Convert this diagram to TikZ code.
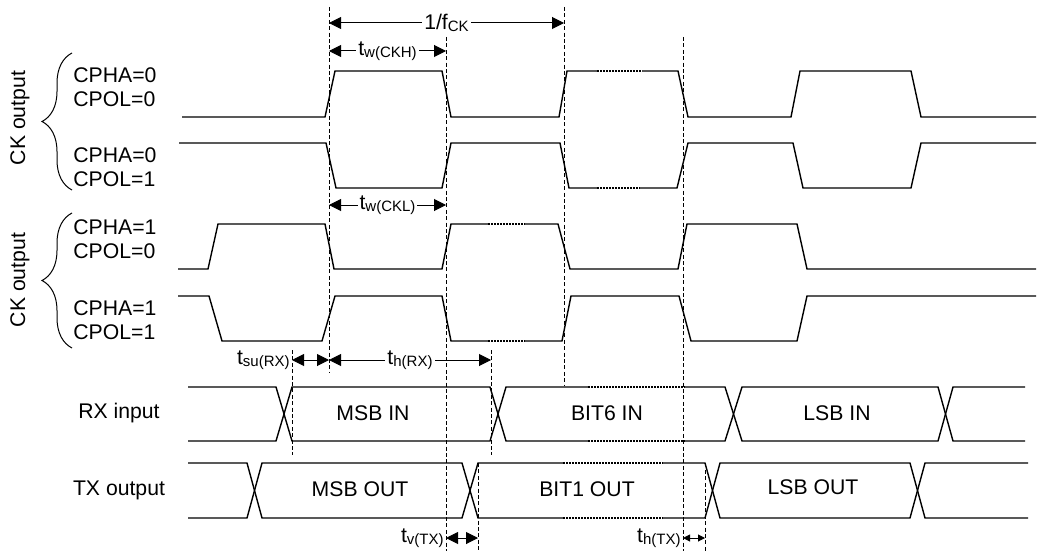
\documentclass[tikz,border=0pt]{standalone}
\usepackage{fontspec}
\setmainfont{Liberation Sans}
\usetikzlibrary{arrows.meta,decorations.pathreplacing}

\newcommand{\tsub}[2]{#1\raisebox{-0.2ex}{\fontsize{7.5}{8}\selectfont #2}}

\begin{document}
\begin{tikzpicture}[x=0.5pt,y=-0.5pt,
  sig/.style={line width=0.7pt},
  dotsig/.style={line width=0.7pt,dash pattern=on 0.8pt off 0.7pt},
  guide/.style={line width=0.45pt,dash pattern=on 2pt off 1.2pt},
  dim/.style={line width=0.5pt,{Triangle[length=6pt,width=6pt]}-{Triangle[length=6pt,width=6pt]}},
  smalldim/.style={line width=0.5pt,{Triangle[length=3.5pt,width=3.5pt]}-{Triangle[length=3.5pt,width=3.5pt]}},
  txt/.style={font=\fontsize{10.6}{12}\selectfont,inner sep=1pt},
  tag/.style={txt,fill=white}]
\useasboundingbox (0,0) rectangle (1037,551);

\draw[guide] (329,7) -- (329,372);
\draw[guide] (446,37) -- (446,551);
\draw[guide] (564,7) -- (564,385);
\draw[guide] (683,37) -- (683,551);
\draw[guide] (292,350) -- (292,455);
\draw[guide] (491,350) -- (491,455);
\draw[guide] (478,463) -- (478,551);
\draw[guide] (705,470) -- (705,551);

\node[txt,rotate=90] (ckA) at (20,118) {CK output};
\node[txt,rotate=90] (ckB) at (20,280) {CK output};
\draw[line width=0.5pt,decorate,decoration={brace,amplitude=15pt}] (72,190) -- (72,53);
\draw[line width=0.5pt,decorate,decoration={brace,amplitude=15pt}] (72,348) -- (72,213);

\node[txt,anchor=west,align=left] (m00) at (71,87.5) {CPHA=0\\CPOL=0};
\node[txt,anchor=west,align=left] (m01) at (71,167.5) {CPHA=0\\CPOL=1};
\node[txt,anchor=west,align=left] (m10) at (71,239.5) {CPHA=1\\CPOL=0};
\node[txt,anchor=west,align=left] (m11) at (71,320) {CPHA=1\\CPOL=1};
\node[txt] (rxin) at (119,413) {RX input};
\node[txt] (txout) at (119,490) {TX output};

\draw[sig] (182,117) -- (325,117) -- (335,71) -- (442,71) -- (451,117) -- (559,117) -- (567,71) -- (597,71);
\draw[dotsig] (597,71) -- (642,71);
\draw[sig] (642,71) -- (678,71) -- (688,117) -- (791,117) -- (800,71) -- (911,71) -- (921,117) -- (1036,117);

\draw[sig] (179,143) -- (326,143) -- (336,188) -- (442,188) -- (451,143) -- (560,143) -- (569,188) -- (597,188);
\draw[dotsig] (597,188) -- (640,188);
\draw[sig] (640,188) -- (677,188) -- (688,143) -- (793,143) -- (803,188) -- (911,188) -- (921,143) -- (1036,143);

\draw[sig] (178,269) -- (208,269) -- (218,224) -- (325,224) -- (334,269) -- (442,269) -- (451,224) -- (488,224);
\draw[dotsig] (488,224) -- (525,224);
\draw[sig] (525,224) -- (558,224) -- (570,269) -- (678,269) -- (687,224) -- (797,224) -- (807,269) -- (1036,269);

\draw[sig] (178,296) -- (209,296) -- (222,341) -- (322,341) -- (335,296) -- (442,296) -- (451,341) -- (488,341);
\draw[dotsig] (488,341) -- (525,341);
\draw[sig] (525,341) -- (562,341) -- (571,296) -- (679,296) -- (691,341) -- (797,341) -- (807,296) -- (1036,296);

\draw[sig] (188,387) -- (276,387) -- (292,441) -- (490,441) -- (506,387) -- (588,387);
\draw[dotsig] (588,387) -- (685,387);
\draw[sig] (685,387) -- (725,387) -- (742,441) -- (938,441) -- (953,387) -- (1025,387);
\draw[sig] (188,441) -- (276,441) -- (292,387) -- (490,387) -- (506,441) -- (588,441);
\draw[dotsig] (588,441) -- (685,441);
\draw[sig] (685,441) -- (725,441) -- (742,387) -- (938,387) -- (953,441) -- (1025,441);
\node[txt] (msbin) at (373,413) {MSB IN};
\node[txt] (bitsixin) at (607,413) {BIT6 IN};
\node[txt] (lsbin) at (837,413) {LSB IN};

\draw[sig] (188,463) -- (247,463) -- (262,518) -- (462,518) -- (478,463) -- (563,463);
\draw[dotsig] (563,463) -- (663,463);
\draw[sig] (663,463) -- (705,463) -- (720,518) -- (910,518) -- (925,463) -- (1028,463);
\draw[sig] (188,518) -- (247,518) -- (262,463) -- (462,463) -- (478,518) -- (563,518);
\draw[dotsig] (563,518) -- (663,518);
\draw[sig] (663,518) -- (705,518) -- (720,463) -- (910,463) -- (925,518) -- (1028,518);
\node[txt] (msbout) at (360,489) {MSB OUT};
\node[txt] (bitoneout) at (587,489) {BIT1 OUT};
\node[txt] (lsbout) at (813,487) {LSB OUT};

\coordinate (fckL) at (329,23);  \coordinate (fckR) at (564,23);
\coordinate (ckhL) at (329,51);  \coordinate (ckhR) at (446,51);
\coordinate (cklL) at (329,205); \coordinate (cklR) at (446,205);
\coordinate (suL) at (292,360);  \coordinate (suR) at (329,360);
\coordinate (hrxL) at (329,360); \coordinate (hrxR) at (491,360);
\coordinate (vtxL) at (446,538); \coordinate (vtxR) at (478,538);
\coordinate (htxL) at (683,538); \coordinate (htxR) at (705,538);

\draw[dim] (fckL) -- (fckR) node[midway,tag] (fck) {\tsub{1/f}{CK}};
\draw[dim] (ckhL) -- (ckhR) node[midway,tag] (ckh) {\tsub{t}{w(CKH)}};
\draw[dim] (cklL) -- (cklR) node[midway,tag] (ckl) {\tsub{t}{w(CKL)}};
\draw[dim] (suL) -- (suR);
\node[txt,anchor=east] (surx) at (suL) {\tsub{t}{su(RX)}};
\draw[dim] (hrxL) -- (hrxR) node[midway,tag] (hrx) {\tsub{t}{h(RX)}};
\draw[dim] (vtxL) -- (vtxR);
\node[txt,anchor=east] (vtx) at (vtxL) {\tsub{t}{v(TX)}};
\draw[smalldim] (htxL) -- (htxR);
\node[txt,anchor=east] (htx) at (htxL) {\tsub{t}{h(TX)}};
\end{tikzpicture}
\end{document}
